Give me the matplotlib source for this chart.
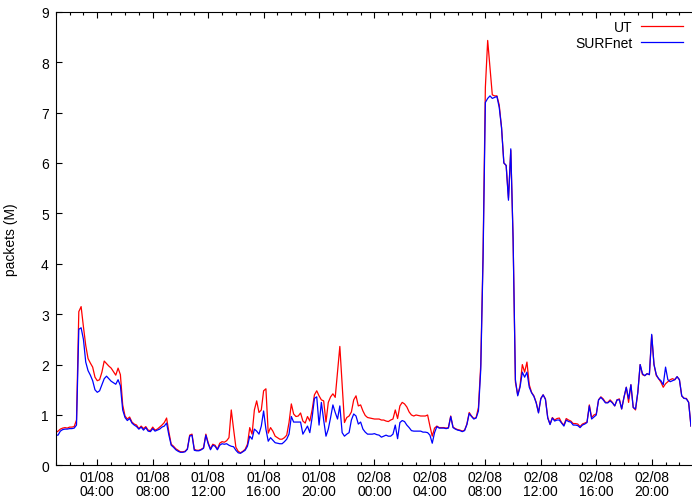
import matplotlib
matplotlib.use('Agg')
import matplotlib.pyplot as plt
import matplotlib.dates as mdates
import pandas as pd

plt.rcParams['font.family'] = ['Liberation Sans', 'DejaVu Sans']

# one sample every 10 minutes, starting 01/08 01:00
START = '2009-08-01 01:00'
STEP = '10min'

ut = [
    0.65, 0.68, 0.72, 0.74, 0.75, 0.74, 0.76, 0.76, 0.77, 0.90, 3.05, 3.15,
    2.75, 2.38, 2.12, 2.03, 1.95, 1.75, 1.68, 1.70, 1.85, 2.07, 2.02, 1.97,
    1.93, 1.86, 1.79, 1.93, 1.80, 1.20, 0.98, 0.92, 0.96, 0.86, 0.82, 0.80,
    0.73, 0.78, 0.73, 0.77, 0.70, 0.69, 0.76, 0.70, 0.72, 0.76, 0.80, 0.85,
    0.94, 0.66, 0.42, 0.38, 0.33, 0.30, 0.27, 0.27, 0.28, 0.33, 0.60, 0.62,
    0.32, 0.30, 0.30, 0.32, 0.35, 0.62, 0.45, 0.33, 0.42, 0.40, 0.32, 0.44,
    0.47, 0.46, 0.49, 0.55, 1.10, 0.72, 0.36, 0.28, 0.25, 0.28, 0.32, 0.42,
    0.75, 0.62, 1.10, 1.28, 1.05, 1.10, 1.48, 1.52, 0.64, 0.75, 0.68, 0.58,
    0.55, 0.52, 0.52, 0.55, 0.60, 0.85, 1.22, 1.02, 0.97, 0.98, 1.04, 0.88,
    0.84, 0.97, 0.88, 1.10, 1.40, 1.48, 1.38, 1.30, 1.28, 0.86, 1.25, 1.36,
    1.42, 1.35, 1.85, 2.36, 1.60, 0.85, 0.95, 0.98, 1.06, 1.30, 1.38, 1.18,
    1.20, 1.08, 0.99, 0.95, 0.94, 0.93, 0.92, 0.92, 0.92, 0.90, 0.90, 0.88,
    0.87, 0.90, 0.92, 1.10, 0.93, 1.18, 1.25, 1.22, 1.16, 1.06, 1.00, 0.98,
    1.00, 0.99, 0.98, 0.98, 0.98, 1.00, 0.78, 0.58, 0.74, 0.78, 0.75, 0.75,
    0.75, 0.74, 0.75, 0.98, 0.76, 0.73, 0.71, 0.70, 0.68, 0.70, 0.82, 1.05,
    0.98, 0.93, 0.95, 1.15, 2.00, 4.20, 7.50, 8.43, 7.90, 7.35, 7.33, 7.33,
    7.15, 6.70, 6.00, 5.95, 5.30, 6.25, 4.50, 1.65, 1.40, 1.58, 2.00, 1.85,
    2.05, 1.60, 1.45, 1.38, 1.25, 1.05, 1.33, 1.40, 1.32, 0.95, 0.82, 0.95,
    0.90, 0.93, 0.94, 0.85, 0.80, 0.93, 0.90, 0.88, 0.83, 0.83, 0.82, 0.77,
    0.82, 0.84, 0.86, 1.20, 0.95, 1.00, 1.02, 1.30, 1.36, 1.32, 1.25, 1.25,
    1.30, 1.25, 1.18, 1.30, 1.32, 1.12, 1.35, 1.55, 1.25, 1.60, 1.15, 1.10,
    1.45, 2.00, 1.80, 1.78, 1.82, 1.80, 2.58, 2.00, 1.78, 1.72, 1.65, 1.55,
    1.62, 1.66, 1.70, 1.72, 1.70, 1.76, 1.70, 1.38, 1.33, 1.33, 1.25, 0.78,
]

surfnet = [
    0.60, 0.60, 0.68, 0.71, 0.72, 0.72, 0.73, 0.73, 0.74, 0.80, 2.70, 2.73,
    2.50, 2.05, 1.88, 1.79, 1.68, 1.50, 1.45, 1.48, 1.60, 1.72, 1.77, 1.72,
    1.67, 1.64, 1.61, 1.70, 1.58, 1.10, 0.95, 0.89, 0.93, 0.84, 0.80, 0.77,
    0.72, 0.76, 0.70, 0.75, 0.68, 0.67, 0.73, 0.68, 0.70, 0.72, 0.76, 0.78,
    0.84, 0.60, 0.40, 0.36, 0.31, 0.28, 0.26, 0.26, 0.27, 0.32, 0.58, 0.60,
    0.30, 0.29, 0.29, 0.31, 0.34, 0.60, 0.43, 0.31, 0.40, 0.38, 0.31, 0.40,
    0.43, 0.42, 0.43, 0.40, 0.38, 0.37, 0.30, 0.25, 0.24, 0.27, 0.30, 0.38,
    0.58, 0.52, 0.72, 0.68, 0.62, 0.78, 1.08, 0.72, 0.48, 0.55, 0.50, 0.45,
    0.44, 0.43, 0.43, 0.47, 0.52, 0.62, 0.97, 0.86, 0.86, 0.86, 0.86, 0.62,
    0.70, 0.78, 0.65, 0.95, 1.33, 1.36, 0.80, 1.25, 0.90, 0.58, 0.72, 0.95,
    1.20, 1.05, 0.92, 1.18, 0.65, 0.58, 0.62, 0.65, 0.90, 1.02, 0.98, 0.82,
    0.86, 0.72, 0.66, 0.62, 0.62, 0.62, 0.63, 0.61, 0.60, 0.56, 0.58, 0.60,
    0.58, 0.58, 0.62, 0.80, 0.53, 0.85, 0.89, 0.87, 0.80, 0.75, 0.69, 0.68,
    0.68, 0.68, 0.68, 0.66, 0.66, 0.65, 0.60, 0.44, 0.65, 0.77, 0.74, 0.74,
    0.74, 0.73, 0.74, 0.97, 0.75, 0.72, 0.70, 0.69, 0.67, 0.69, 0.81, 1.03,
    0.97, 0.92, 0.94, 1.08, 1.90, 4.10, 7.20, 7.28, 7.33, 7.28, 7.30, 7.32,
    7.10, 6.70, 6.00, 5.95, 5.26, 6.28, 4.50, 1.70, 1.38, 1.55, 1.85, 1.75,
    1.85, 1.55, 1.44, 1.37, 1.24, 1.04, 1.32, 1.40, 1.31, 0.94, 0.81, 0.94,
    0.88, 0.90, 0.90, 0.84, 0.78, 0.90, 0.87, 0.86, 0.80, 0.80, 0.79, 0.75,
    0.80, 0.82, 0.85, 1.18, 0.92, 0.96, 1.00, 1.30, 1.35, 1.30, 1.24, 1.24,
    1.28, 1.24, 1.18, 1.30, 1.30, 1.12, 1.35, 1.55, 1.32, 1.60, 1.15, 1.12,
    1.45, 2.00, 1.82, 1.78, 1.82, 1.80, 2.60, 2.00, 1.80, 1.72, 1.68, 1.60,
    1.95, 1.70, 1.66, 1.68, 1.70, 1.76, 1.70, 1.38, 1.33, 1.32, 1.25, 0.78,
]

times = pd.date_range(START, periods=len(ut), freq=STEP)

fig = plt.figure(figsize=(6.92, 5.02), dpi=100)
ax = fig.add_axes([0.0805, 0.0709, 0.918, 0.9038])

ax.plot(times, ut, color='#ff0000', lw=0.9, label='UT')
ax.plot(times, surfnet, color='#0000ff', lw=0.9, label='SURFnet')

ax.set_xlim(times[0], times[-1])
ax.set_ylim(0, 9)
ax.set_yticks(range(10))

ax.xaxis.set_major_locator(mdates.HourLocator(byhour=range(0, 24, 4)))
ax.xaxis.set_minor_locator(mdates.HourLocator())
ax.xaxis.set_major_formatter(mdates.DateFormatter('%d/%m\n%H:%M'))

# the plot runs off the right edge, so no right border
ax.spines['right'].set_visible(False)
ax.tick_params(which='both', direction='in', top=True, right=False,
               labelsize=10, width=0.8)
ax.tick_params(which='major', length=4.5)
ax.tick_params(which='minor', length=2.2)
ax.tick_params(axis='x', which='major', pad=3)
ax.tick_params(axis='y', which='major', pad=5)
for sp in ax.spines.values():
    sp.set_linewidth(0.8)

fig.canvas.draw()
for lbl in ax.get_xticklabels():
    lbl.set_linespacing(1.02)

ax.set_ylabel('packets (M)', fontsize=10)
ax.yaxis.set_label_coords(-0.059, 0.5)

ax.legend(loc='upper right', frameon=False, markerfirst=False,
          handlelength=3.0, fontsize=10, borderaxespad=0.2,
          labelspacing=0.15, handletextpad=0.6)

fig.savefig('out.png')
